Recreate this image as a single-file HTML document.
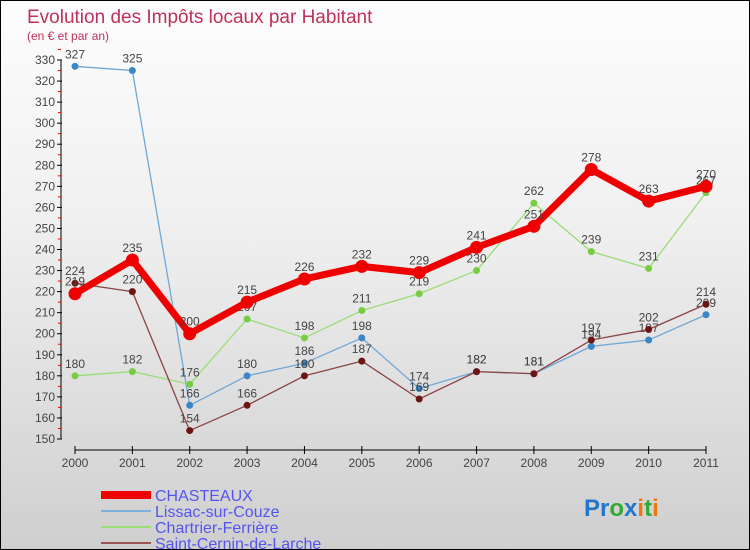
<!DOCTYPE html>
<html><head><meta charset="utf-8"><style>
body{margin:0;}
#wrap{width:748px;height:548px;border:1px solid #000;background:linear-gradient(#fdfdfd,#f0f0f0 40%,#cfcfcf);position:relative;font-family:"Liberation Sans",sans-serif;overflow:hidden}
</style></head><body>
<div id="wrap">
<svg id="c" width="748" height="548"></svg>
</div>
<script>
const years=["2000","2001","2002","2003","2004","2005","2006","2007","2008","2009","2010","2011"];
const chasteaux=[219,235,200,215,226,232,229,241,251,278,263,270];
const lissac=[327,325,166,180,186,198,174,182,181,194,197,209];
const chartrier=[180,182,176,207,198,211,219,230,262,239,231,267];
const cernin=[224,220,154,166,180,187,169,182,181,197,202,214];
const yTicks=[150,160,170,180,190,200,210,220,230,240,250,260,270,280,290,300,310,320,330];
const names=["CHASTEAUX","Lissac-sur-Couze","Chartrier-Ferrière","Saint-Cernin-de-Larche"];
const NS="http://www.w3.org/2000/svg";
const svg=document.getElementById('c');
const X=i=>74+i*(631/11);
const Y=v=>438-(v-150)*(379/180);
function mk(t,a,p){const e=document.createElementNS(NS,t);for(const k in a)e.setAttribute(k,a[k]);(p||svg).appendChild(e);return e;}
let t=mk('text',{x:26,y:22,'font-size':19,fill:'#c0305a'});t.textContent="Evolution des Impôts locaux par Habitant";

t=mk('text',{x:26,y:39,'font-size':12,fill:'#c0305a'});t.textContent="(en € et par an)";

// y axis
let ax=mk('line',{x1:60,y1:Y(330),x2:60,y2:Y(150),stroke:'#000'});

yTicks.forEach(v=>{mk('line',{x1:56,x2:61,y1:Y(v),y2:Y(v),stroke:'#000'});
 mk('line',{x1:57,x2:60,y1:Y(v+5),y2:Y(v+5),stroke:'#e00'});
 const l=mk('text',{x:54,y:Y(v)+4,'font-size':12,fill:'#444','text-anchor':'end'});l.textContent=v;
 });
ax=mk('line',{x1:X(0),y1:449,x2:X(11),y2:449,stroke:'#000'});

years.forEach((y,i)=>{mk('line',{x1:X(i),x2:X(i),y1:445,y2:453,stroke:'#000'});
 const l=mk('text',{x:X(i),y:466,'font-size':12,fill:'#444','text-anchor':'middle'});l.textContent=y;
 });
function series(d,col,dot,w,r,name){
 const g=mk('g',{});
 mk('polyline',{points:d.map((v,i)=>X(i)+','+Y(v)).join(' '),fill:'none',stroke:col,'stroke-width':w,'stroke-linejoin':'round'},g);
 d.forEach((v,i)=>{const c=mk('circle',{cx:X(i),cy:Y(v),r:r,fill:dot},g);
  
  const l=mk('text',{x:X(i),y:Y(v)-8,'font-size':12,fill:'#444','text-anchor':'middle'},g);l.textContent=v;});
}
series(lissac,'#6fa8d8','#3a86c6',1.3,3.5,'lissac-series');
series(chartrier,'#99dd77','#77cc44',1.3,3.5,'chartrier-series');
series(cernin,'#8b4444','#6b1515',1.3,3.5,'cernin-series');
series(chasteaux,'#ee0000','#ee0000',7,6.5,'chasteaux-series');
const lc=['#ee0000','#7fb0d8','#99dd77','#995555'],lw=[8,2,2,2];
names.forEach((n,i)=>{const yy=494+i*16;
 const g=mk('g',{});
 mk('line',{x1:100,x2:150,y1:yy,y2:yy,stroke:lc[i],'stroke-width':lw[i]},g);
 const l=mk('text',{x:154,y:yy+6,'font-size':16,fill:'#5555ee'},g);l.textContent=n;});
const lg=mk('text',{x:583,y:515,'font-size':24,'font-weight':'bold'});

[['Pr','#2277cc'],['o','#33aa33'],['x','#2277cc'],['i','#ee7711'],['t','#33aa33'],['i','#ee7711']].forEach(([s,c])=>{const ts=mk('tspan',{fill:c},lg);ts.textContent=s;});
</script>
</body></html>
